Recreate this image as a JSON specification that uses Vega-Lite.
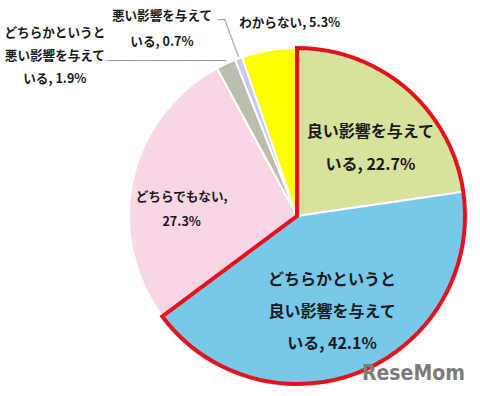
{
  "$schema": "https://vega.github.io/schema/vega-lite/v6.json",
  "width": 336,
  "height": 336,
  "autosize": {"type": "none"},
  "padding": {"left": 129, "top": 48, "right": 15, "bottom": 12},
  "background": "white",
  "config": {"view": {"stroke": null}},
  "datasets": {
    "answers": [
      {"key": "良い影響を与えている", "label": "良い影響を与えて\nいる, 22.7%", "value": 22.7, "order": 1},
      {"key": "どちらかというと良い影響を与えている", "label": "どちらかというと\n良い影響を与えて\nいる, 42.1%", "value": 42.1, "order": 2},
      {"key": "どちらでもない", "label": "どちらでもない,\n27.3%", "value": 27.3, "order": 3},
      {"key": "どちらかというと悪い影響を与えている", "label": "どちらかというと\n悪い影響を与えて\nいる, 1.9%", "value": 1.9, "order": 4},
      {"key": "悪い影響を与えている", "label": "悪い影響を与えて\nいる, 0.7%", "value": 0.7, "order": 5},
      {"key": "わからない", "label": "わからない, 5.3%", "value": 5.3, "order": 6}
    ],
    "outline": [
      {"group": "良い影響（計）", "value": 64.8, "order": 1},
      {"group": "その他", "value": 35.2, "order": 2}
    ]
  },
  "data": {"name": "answers"},
  "layer": [
    {
      "mark": {"type": "arc", "stroke": "white", "strokeWidth": 2},
      "encoding": {
        "theta": {"field": "value", "type": "quantitative", "stack": true},
        "order": {"field": "order", "type": "quantitative"},
        "color": {
          "field": "key",
          "type": "nominal",
          "scale": {
            "domain": ["良い影響を与えている", "どちらかというと良い影響を与えている", "どちらでもない", "どちらかというと悪い影響を与えている", "悪い影響を与えている", "わからない"],
            "range": ["#d7e29d", "#78c8ea", "#f9d6e6", "#bdbdad", "#c9c9f0", "#ffff00"]
          },
          "legend": null
        }
      }
    },
    {
      "data": {"name": "outline"},
      "mark": {"type": "arc", "fillOpacity": 0, "stroke": "#e3121c", "strokeWidth": 4, "strokeJoin": "miter"},
      "encoding": {
        "theta": {"field": "value", "type": "quantitative", "stack": true},
        "order": {"field": "order", "type": "quantitative"},
        "strokeOpacity": {"condition": {"test": "datum.order == 1", "value": 1}, "value": 0}
      }
    },
    {
      "mark": {"type": "text", "radius": 100, "dx": 8, "dy": -8.5, "font": "Noto Sans CJK JP", "fontSize": 16, "fontWeight": "bold", "lineBreak": "\n", "lineHeight": 33, "align": "center", "baseline": "middle", "color": "#1a1a1a"},
      "encoding": {
        "theta": {"field": "value", "type": "quantitative", "stack": true},
        "order": {"field": "order", "type": "quantitative"},
        "text": {"condition": {"test": "datum.order == 1", "field": "label"}, "value": ""}
      }
    },
    {
      "mark": {"type": "text", "radius": 102, "dx": -4, "dy": -30, "font": "Noto Sans CJK JP", "fontSize": 16, "fontWeight": "bold", "lineBreak": "\n", "lineHeight": 32, "align": "center", "baseline": "middle", "color": "#1a1a1a"},
      "encoding": {
        "theta": {"field": "value", "type": "quantitative", "stack": true},
        "order": {"field": "order", "type": "quantitative"},
        "text": {"condition": {"test": "datum.order == 2", "field": "label"}, "value": ""}
      }
    },
    {
      "mark": {"type": "text", "radius": 115, "dx": -3, "dy": 5.5, "font": "Noto Sans CJK JP", "fontSize": 12.6, "fontWeight": "bold", "lineBreak": "\n", "lineHeight": 25, "align": "center", "baseline": "middle", "color": "#1a1a1a"},
      "encoding": {
        "theta": {"field": "value", "type": "quantitative", "stack": true},
        "order": {"field": "order", "type": "quantitative"},
        "text": {"condition": {"test": "datum.order == 3", "field": "label"}, "value": ""}
      }
    },
    {
      "mark": {"type": "text", "radius": 180, "dx": -166, "dy": -20, "font": "Noto Sans CJK JP", "fontSize": 12.6, "fontWeight": "bold", "lineBreak": "\n", "lineHeight": 23, "align": "center", "baseline": "middle", "color": "#1a1a1a"},
      "encoding": {
        "theta": {"field": "value", "type": "quantitative", "stack": true},
        "order": {"field": "order", "type": "quantitative"},
        "text": {"condition": {"test": "datum.order == 4", "field": "label"}, "value": ""}
      }
    },
    {
      "mark": {"type": "text", "radius": 190, "dx": -69, "dy": -21.5, "font": "Noto Sans CJK JP", "fontSize": 12.6, "fontWeight": "bold", "lineBreak": "\n", "lineHeight": 26, "align": "center", "baseline": "middle", "color": "#1a1a1a"},
      "encoding": {
        "theta": {"field": "value", "type": "quantitative", "stack": true},
        "order": {"field": "order", "type": "quantitative"},
        "text": {"condition": {"test": "datum.order == 5", "field": "label"}, "value": ""}
      }
    },
    {
      "mark": {"type": "text", "radius": 195, "dx": 25, "dy": -1, "font": "Noto Sans CJK JP", "fontSize": 12.6, "fontWeight": "bold", "lineBreak": "\n", "align": "center", "baseline": "middle", "color": "#1a1a1a"},
      "encoding": {
        "theta": {"field": "value", "type": "quantitative", "stack": true},
        "order": {"field": "order", "type": "quantitative"},
        "text": {"condition": {"test": "datum.order == 6", "field": "label"}, "value": ""}
      }
    },
    {
      "mark": {"type": "text", "radius": 170, "dx": 1, "dy": -1, "font": "DejaVu Sans Mono", "fontSize": 12.4, "align": "right", "baseline": "middle", "color": "#a0a0a0"},
      "encoding": {
        "theta": {"field": "value", "type": "quantitative", "stack": true},
        "order": {"field": "order", "type": "quantitative"},
        "text": {"condition": {"test": "datum.order == 4", "value": "────────────────"}, "value": ""}
      }
    },
    {
      "mark": {"type": "text", "radius": 189.5, "angle": 69.66, "font": "DejaVu Sans Mono", "fontSize": 13, "align": "center", "baseline": "middle", "color": "#a0a0a0"},
      "encoding": {
        "theta": {"field": "value", "type": "quantitative", "stack": true},
        "order": {"field": "order", "type": "quantitative"},
        "text": {"condition": {"test": "datum.order == 5", "value": "─────"}, "value": ""}
      }
    },
    {
      "mark": {"type": "text", "radius": 209, "dx": 1, "font": "DejaVu Sans Mono", "fontSize": 12.4, "align": "right", "baseline": "middle", "color": "#a0a0a0"},
      "encoding": {
        "theta": {"field": "value", "type": "quantitative", "stack": true},
        "order": {"field": "order", "type": "quantitative"},
        "text": {"condition": {"test": "datum.order == 5", "value": "─"}, "value": ""}
      }
    },
    {
      "mark": {"type": "text", "radius": 180, "dx": 99, "dy": -8, "font": "DejaVu Sans Condensed", "fontSize": 21, "fontWeight": "bold", "align": "right", "baseline": "middle", "color": "#7b7b7b"},
      "encoding": {
        "theta": {"field": "value", "type": "quantitative", "stack": true},
        "order": {"field": "order", "type": "quantitative"},
        "text": {"condition": {"test": "datum.order == 2", "value": "ReseMom"}, "value": ""}
      }
    }
  ]
}
